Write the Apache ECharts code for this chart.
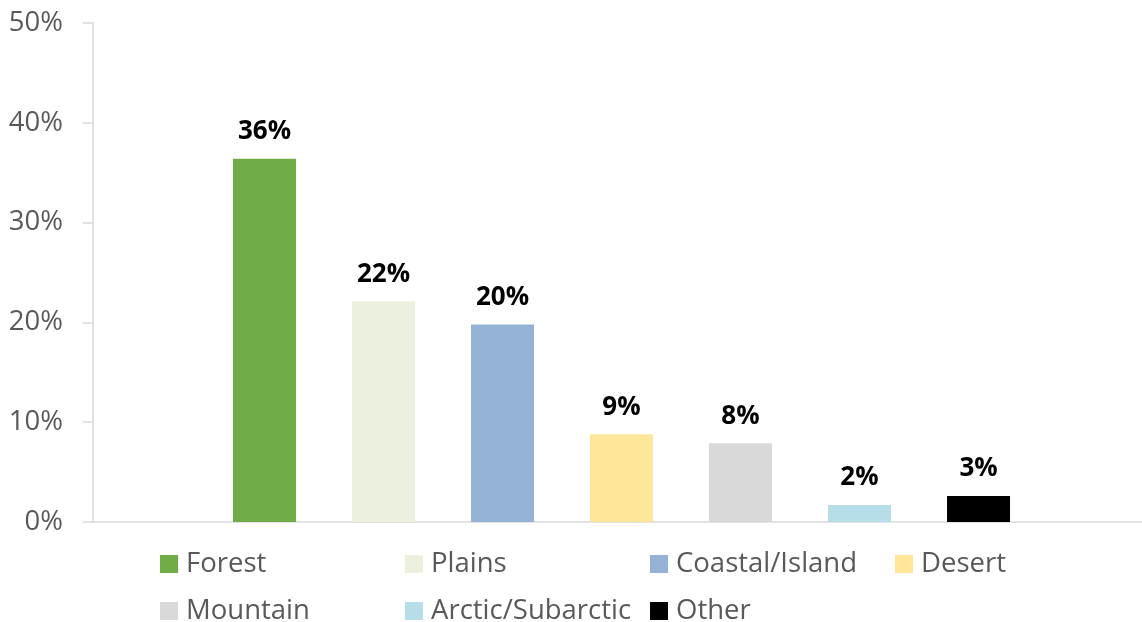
<!DOCTYPE html>
<html>
<head>
<meta charset="utf-8">
<script src="https://cdn.jsdelivr.net/npm/echarts@6/dist/echarts.min.js"></script>
<style>
  html, body { margin: 0; padding: 0; background: #fff; }
  #chart { width: 1142px; height: 622px; }
</style>
</head>
<body>
<div id="chart"></div>
<script>
// ---- data ----
const seriesNames = ['Forest', 'Plains', 'Coastal/Island', 'Desert', 'Mountain', 'Arctic/Subarctic', 'Other'];
const seriesValues = [36.4, 22.1, 19.8, 8.8, 7.9, 1.7, 2.6];
const seriesColors = ['#70AD47', '#EBF1DE', '#95B3D7', '#FFE699', '#D9D9D9', '#B7DEE8', '#000000'];
const yTicks = [0, 10, 20, 30, 40, 50];
const categories = [''];

// ---- chart ----
const FONT = 'Open Sans';
const chart = echarts.init(document.getElementById('chart'), null, { renderer: 'canvas' });

const series = seriesNames.map((name, i) => ({
  name: name,
  type: 'bar',
  xAxisIndex: 1,
  yAxisIndex: 1,
  data: [seriesValues[i]],
  barWidth: 63,
  barGap: '88.9%',
  itemStyle: { color: seriesColors[i] },
  label: {
    show: true,
    position: 'top',
    distance: 14,
    formatter: p => Math.round(p.value) + '%',
    fontFamily: FONT,
    fontSize: 26,
    fontWeight: 'bold',
    color: '#000'
  }
}));

// legend positions (two rows, four columns)
const colX = [160, 405, 650, 895];
const rowY = [549, 596];
const legends = seriesNames.map((name, i) => ({
  data: [name],
  left: colX[i % 4],
  top: rowY[Math.floor(i / 4)],
  padding: 0,
  icon: 'rect',
  itemWidth: 18,
  itemHeight: 18,
  selectedMode: false,
  textStyle: {
    fontFamily: FONT,
    fontSize: 27.5,
    color: '#595959',
    lineHeight: 30,
    padding: [0, 0, 0, 3]
  }
}));

const yMin = yTicks[0], yMax = yTicks[yTicks.length - 1];

chart.setOption({
  animation: false,
  backgroundColor: '#fff',
  grid: [
    { left: 93, right: 0, top: 23, bottom: 100, containLabel: false },
    { left: 101, right: 0, top: 23, bottom: 100, containLabel: false }
  ],
  legend: legends,
  xAxis: [
    {
      gridIndex: 0,
      type: 'category',
      data: categories,
      axisLine: { show: true, lineStyle: { color: '#D9D9D9', width: 1.5 } },
      axisTick: { show: false },
      axisLabel: { show: false },
      splitLine: { show: false }
    },
    {
      gridIndex: 1,
      type: 'category',
      data: categories,
      show: false
    }
  ],
  yAxis: [
    {
      gridIndex: 0,
      type: 'value',
      min: yMin,
      max: yMax,
      interval: 10,
      axisLine: { show: true, lineStyle: { color: '#D9D9D9', width: 1.5 } },
      axisTick: { show: true, length: 10, lineStyle: { color: '#D9D9D9', width: 1.5 } },
      splitLine: { show: false },
      axisLabel: {
        formatter: '{value}%',
        margin: 30,
        fontFamily: FONT,
        fontSize: 27.5,
        color: '#595959'
      }
    },
    {
      gridIndex: 1,
      type: 'value',
      min: yMin,
      max: yMax,
      interval: 10,
      show: false
    }
  ],
  series: series
});
</script>
</body>
</html>
